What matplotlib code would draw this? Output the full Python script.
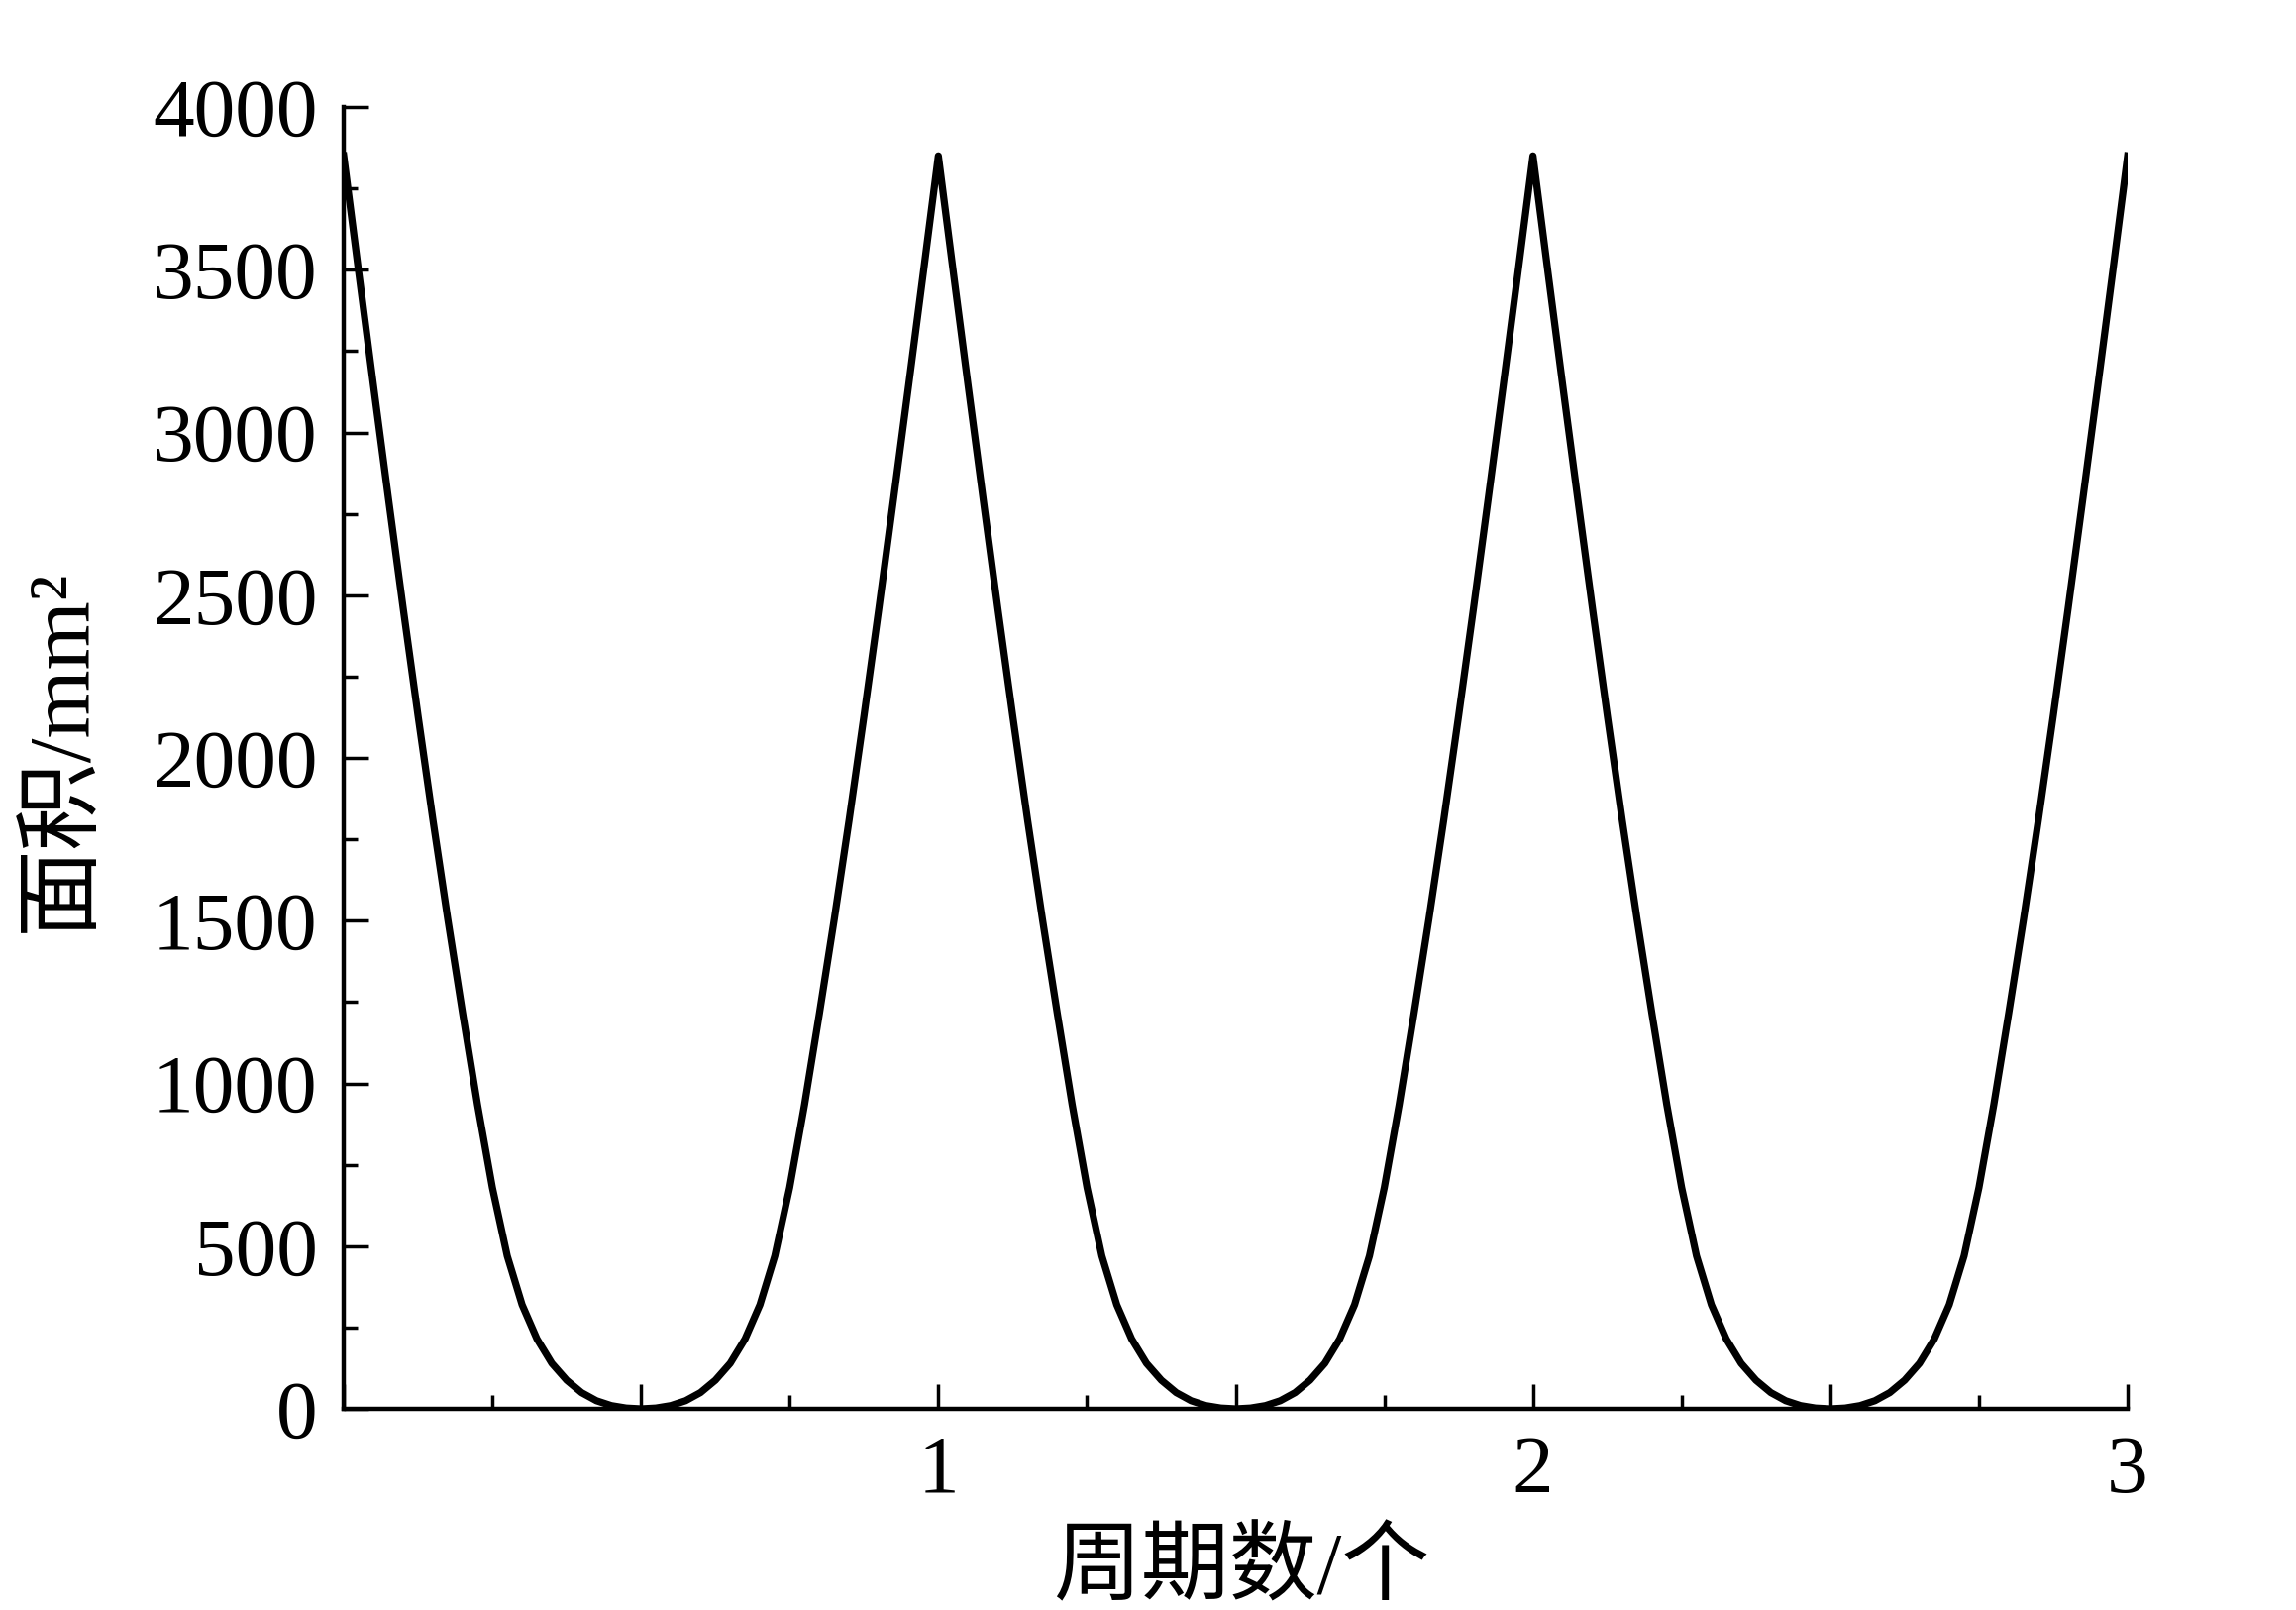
import matplotlib
matplotlib.use("Agg")
import matplotlib.pyplot as plt
from matplotlib.ticker import FixedLocator, MultipleLocator

# ---- data ----
cycles = [
    0.000, 0.025, 0.050, 0.075, 0.100, 0.125, 0.150, 0.175, 0.200, 0.225,
    0.250, 0.275, 0.300, 0.325, 0.350, 0.375, 0.400, 0.425, 0.450, 0.475,
    0.500, 0.525, 0.550, 0.575, 0.600, 0.625, 0.650, 0.675, 0.700, 0.725,
    0.750, 0.775, 0.800, 0.825, 0.850, 0.875, 0.900, 0.925, 0.950, 0.975,
    1.000, 1.025, 1.050, 1.075, 1.100, 1.125, 1.150, 1.175, 1.200, 1.225,
    1.250, 1.275, 1.300, 1.325, 1.350, 1.375, 1.400, 1.425, 1.450, 1.475,
    1.500, 1.525, 1.550, 1.575, 1.600, 1.625, 1.650, 1.675, 1.700, 1.725,
    1.750, 1.775, 1.800, 1.825, 1.850, 1.875, 1.900, 1.925, 1.950, 1.975,
    2.000, 2.025, 2.050, 2.075, 2.100, 2.125, 2.150, 2.175, 2.200, 2.225,
    2.250, 2.275, 2.300, 2.325, 2.350, 2.375, 2.400, 2.425, 2.450, 2.475,
    2.500, 2.525, 2.550, 2.575, 2.600, 2.625, 2.650, 2.675, 2.700, 2.725,
    2.750, 2.775, 2.800, 2.825, 2.850, 2.875, 2.900, 2.925, 2.950, 2.975,
    3.000,
]
area = [
    3850, 3495, 3145, 2800, 2460, 2130, 1810, 1505, 1215, 935,
    680, 470, 320, 215, 140, 88, 50, 25, 10, 2.5,
    0, 2.5, 10, 25, 50, 88, 140, 215, 320, 470,
    680, 935, 1215, 1505, 1810, 2130, 2460, 2800, 3145, 3495,
    3850, 3495, 3145, 2800, 2460, 2130, 1810, 1505, 1215, 935,
    680, 470, 320, 215, 140, 88, 50, 25, 10, 2.5,
    0, 2.5, 10, 25, 50, 88, 140, 215, 320, 470,
    680, 935, 1215, 1505, 1810, 2130, 2460, 2800, 3145, 3495,
    3850, 3495, 3145, 2800, 2460, 2130, 1810, 1505, 1215, 935,
    680, 470, 320, 215, 140, 88, 50, 25, 10, 2.5,
    0, 2.5, 10, 25, 50, 88, 140, 215, 320, 470,
    680, 935, 1215, 1505, 1810, 2130, 2460, 2800, 3145, 3495,
    3850,
]
x_major_ticks = [0, 0.5, 1, 1.5, 2, 2.5, 3]
x_tick_labels = ["", "", "1", "", "2", "", "3"]
y_major_ticks = [0, 500, 1000, 1500, 2000, 2500, 3000, 3500, 4000]
y_tick_labels = ["0", "500", "1000", "1500", "2000", "2500", "3000", "3500", "4000"]
x_label = "周期数/个"
y_label = "面积/mm²"

# ---- style ----
plt.rcParams["font.family"] = ["Liberation Serif", "Noto Sans CJK SC"]

W, H = 2318, 1625
fig = plt.figure(figsize=(W / 100, H / 100), dpi=100)
ax = fig.add_axes([347 / W, (H - 1422) / H, 1801 / W, 1314 / H])

ax.plot(cycles, area, color="black", lw=5.2)

ax.set_xlim(0, 3)
ax.set_ylim(0, 4000)

ax.xaxis.set_major_locator(FixedLocator(x_major_ticks))
ax.set_xticklabels(x_tick_labels)
ax.xaxis.set_minor_locator(MultipleLocator(0.25))
ax.yaxis.set_major_locator(FixedLocator(y_major_ticks))
ax.set_yticklabels(y_tick_labels)
ax.yaxis.set_minor_locator(MultipleLocator(250))

for side in ("top", "right"):
    ax.spines[side].set_visible(False)
for side in ("left", "bottom"):
    ax.spines[side].set_linewidth(3.2)

ax.tick_params(which="major", direction="in", length=18, width=2.5, labelsize=60)
ax.tick_params(which="minor", direction="in", length=10, width=2.5)
ax.tick_params(axis="y", which="major", pad=19)
ax.tick_params(axis="x", which="major", pad=19)

ax.set_xlabel(x_label, fontsize=64)
ax.xaxis.label.set_va("center")
ax.xaxis.set_label_coords(0.503, -0.125)

ax.set_ylabel(y_label, fontsize=64)
ax.yaxis.label.set_va("center")
ax.yaxis.set_label_coords(-0.157, 0.506)

fig.savefig("out.png", dpi=100, facecolor="white")
